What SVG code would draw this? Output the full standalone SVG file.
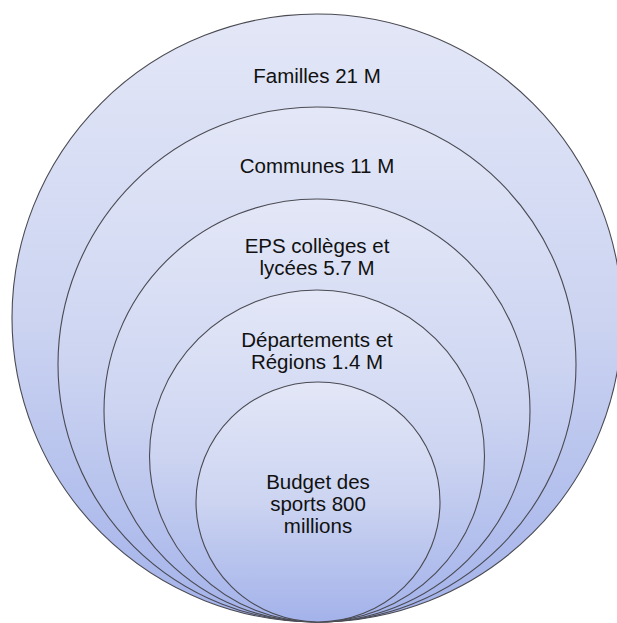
<svg xmlns="http://www.w3.org/2000/svg" width="617" height="623" viewBox="0 0 617 623">
<defs>
<linearGradient id="g" x1="0" y1="0" x2="0" y2="1">
<stop offset="0" stop-color="#e3e7f7"/>
<stop offset="0.5" stop-color="#ccd4f1"/>
<stop offset="1" stop-color="#a3b2ea"/>
</linearGradient>
<style>
.c{fill:url(#g);stroke:#4a4a52;stroke-width:1.1}
text{font-family:"Liberation Sans",Arial,sans-serif;font-size:20.5px;fill:#111;text-anchor:middle}
</style>
</defs>
<rect width="617" height="623" fill="#ffffff"/>
<g id="familles">
<ellipse class="c" cx="317" cy="318" rx="305" ry="304"/>
<text x="317" y="83">Familles 21 M</text>
</g>
<g id="communes">
<ellipse class="c" cx="317" cy="364.5" rx="259" ry="257.5"/>
<text x="317" y="173">Communes 11 M</text>
</g>
<g id="eps">
<ellipse class="c" cx="317" cy="410.5" rx="213" ry="211.5"/>
<text x="317" y="253">EPS collèges et</text>
<text x="317" y="275">lycées 5.7 M</text>
</g>
<g id="departements">
<ellipse class="c" cx="317" cy="456" rx="167.5" ry="166"/>
<text x="317" y="347">Départements et</text>
<text x="317" y="369">Régions 1.4 M</text>
</g>
<g id="budget">
<ellipse class="c" cx="318" cy="502" rx="122" ry="120"/>
<text x="318" y="489">Budget des</text>
<text x="318" y="511">sports 800</text>
<text x="318" y="533">millions</text>
</g>
<g id="connectors"/>
</svg>
